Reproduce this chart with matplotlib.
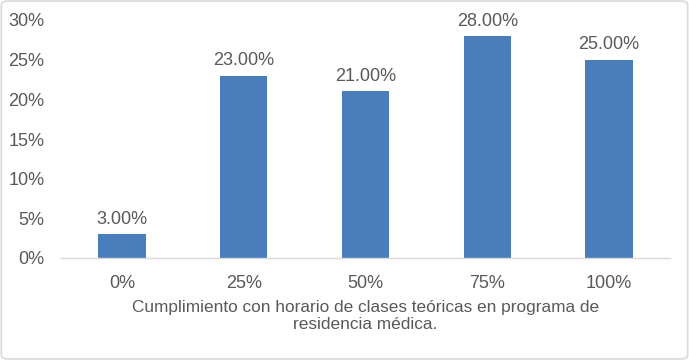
import matplotlib.pyplot as plt
from matplotlib.patches import FancyBboxPatch

categories = ["0%", "25%", "50%", "75%", "100%"]
values = [3.0, 23.0, 21.0, 28.0, 25.0]
yticks = [0, 5, 10, 15, 20, 25, 30]

plt.rcParams['font.family'] = ['Liberation Sans', 'DejaVu Sans']
text_col = '#595959'
fs = 13

fig = plt.figure(figsize=(6.89, 3.60), dpi=100)
ax = fig.add_axes([61 / 689, 102 / 360, 609 / 689, 238 / 360])

x = range(len(categories))
ax.bar(x, values, width=0.39, color='#4A7EBB')

for xi, v in zip(x, values):
    ax.text(xi, v + 0.8, f"{v:.2f}%", ha='center', va='bottom',
            fontsize=fs, color=text_col)

ax.set_xlim(-0.5, len(categories) - 0.5)
ax.set_ylim(0, 30)
ax.set_xticks(list(x))
ax.set_xticklabels(categories)
ax.set_yticks(yticks)
ax.set_yticklabels([f"{t}%" for t in yticks])
ax.tick_params(axis='both', length=0, labelsize=fs, labelcolor=text_col)
ax.tick_params(axis='x', pad=12)
ax.tick_params(axis='y', pad=12)

for s in ['top', 'right', 'left']:
    ax.spines[s].set_visible(False)
ax.spines['bottom'].set_color('#D9D9D9')
ax.spines['bottom'].set_linewidth(1)

ax.set_xlabel("Cumplimiento con horario de clases teóricas en programa de\nresidencia médica.",
              fontsize=12.4, color=text_col, labelpad=6, linespacing=1.2)

border = FancyBboxPatch((0.002, 0.003), 0.996, 0.994, boxstyle="round,pad=0,rounding_size=0.01",
                        transform=fig.transFigure, fill=False, edgecolor='#D9D9D9', linewidth=1.2)
fig.patches.append(border)

fig.savefig("out.png", dpi=100)
